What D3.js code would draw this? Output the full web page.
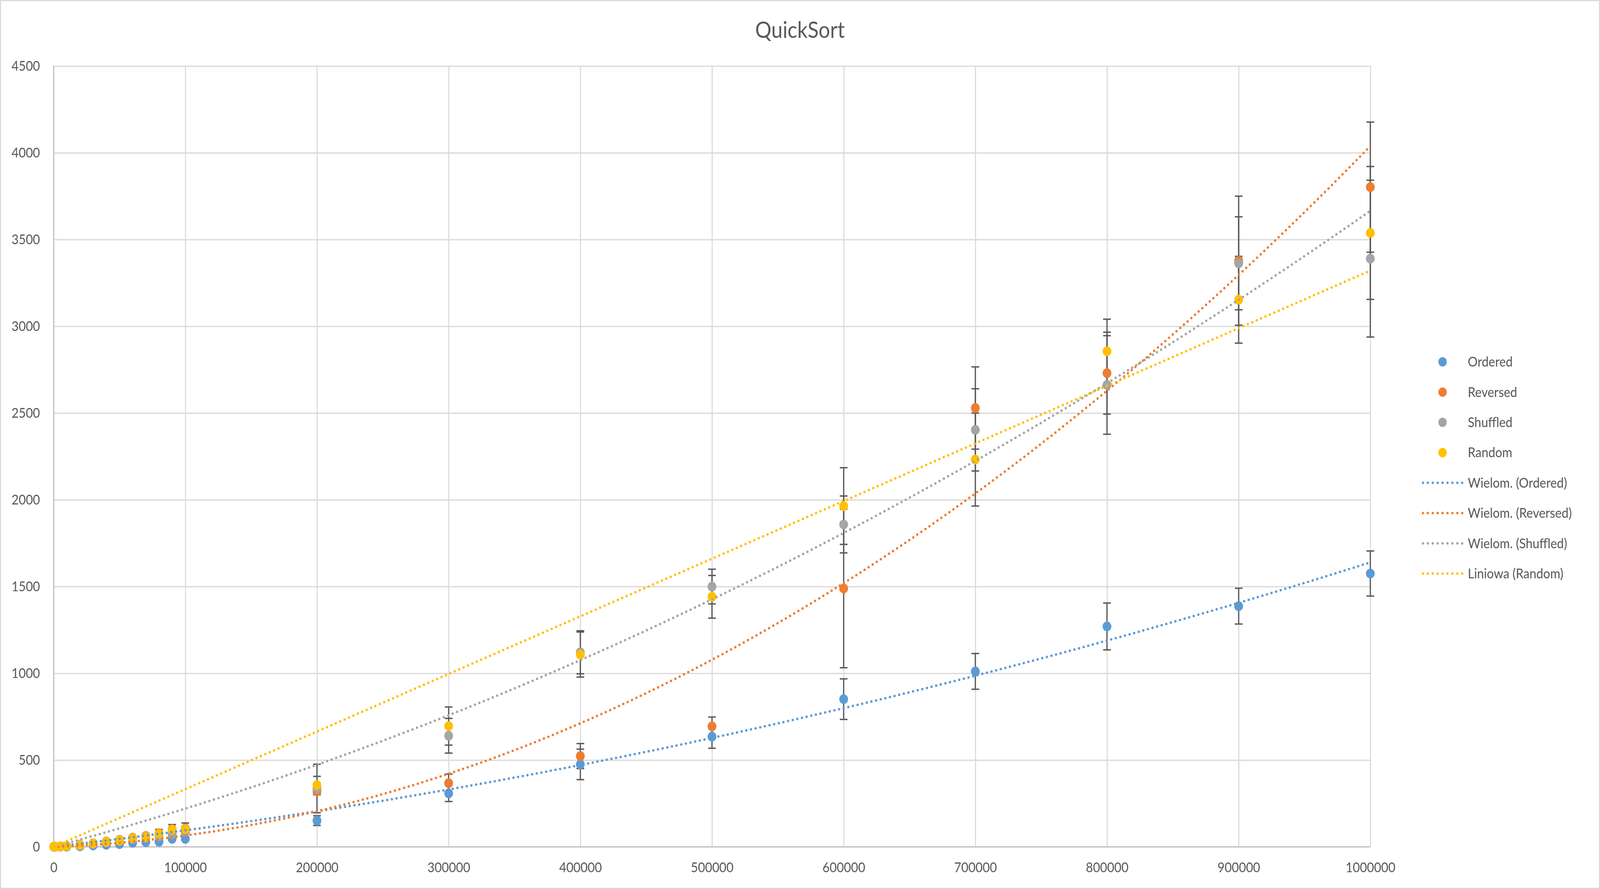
<!DOCTYPE html>
<html>
<head>
<meta charset="utf-8">
<script src="https://cdn.jsdelivr.net/npm/d3@7"></script>
<style>
  html, body { margin: 0; padding: 0; background: #fff; overflow: hidden; }
  svg { display: block; width: 100vw; height: 100vh; font-family: Lato, "Open Sans", sans-serif; }
</style>
</head>
<body>
<svg id="chart" viewBox="0 0 4563 2275" preserveAspectRatio="none"></svg>
<script>
// array sizes (x) and measured times
const sizes = [100, 1000, 5000, 10000, 20000, 30000, 40000, 50000, 60000, 70000, 80000, 90000, 100000,
  200000, 300000, 400000, 500000, 600000, 700000, 800000, 900000, 1000000];

const ordered = [0, 0.3, 0.5, 1, 3, 8, 12, 16, 23, 27, 29, 46, 46, 151, 308, 475, 635, 851, 1011, 1270, 1387, 1575];
const reversed = [0, 0.5, 2, 4, 11, 21, 31, 40, 53, 62, 78, 102, 106, 320, 367, 523, 694, 1489, 2529, 2730, 3378, 3802];
const shuffled = [0, 0.5, 2, 4, 9, 17, 25, 33, 44, 52, 62, 72, 87, 336, 640, 1121, 1500, 1858, 2403, 2662, 3363, 3390];
const random = [0, 0.5, 2, 4, 10, 20, 29, 37, 50, 57, 74, 98, 102, 356, 696, 1108, 1441, 1964, 2232, 2856, 3153, 3538];

// +/- error amounts
const orderedErr = [0, 0, 0, 1, 2, 3, 3, 4, 4, 5, 6, 8, 10, 28, 47, 88, 67, 117, 103, 135, 103, 130];
const reversedErr = [0, 0, 1, 1, 2, 3, 4, 6, 8, 14, 22, 26, 31, 20, 52, 72, 54, 457, 237, 236, 372, 375];
const shuffledErr = [0, 0, 1, 1, 2, 3, 4, 5, 6, 8, 10, 12, 14, 140, 100, 124, 100, 164, 237, 284, 268, 452];
const randomErr = [0, 0, 1, 1, 2, 3, 4, 5, 6, 8, 10, 12, 14, 50, 110, 130, 123, 221, 268, 185, 250, 383];

const seriesNames = ['Ordered', 'Reversed', 'Shuffled', 'Random'];
const seriesColors = ['#5B9BD5', '#ED7D31', '#A5A5A5', '#FFC000'];
const trendNames = ['Wielom. (Ordered)', 'Wielom. (Reversed)', 'Wielom. (Shuffled)', 'Liniowa (Random)'];
const trendDegree = [2, 2, 2, 1];

const xTicks = d3.range(0, 1000001, 100000);
const yTicks = d3.range(0, 4501, 500);

const values = [ordered, reversed, shuffled, random];
const errors = [orderedErr, reversedErr, shuffledErr, randomErr];

const series = seriesNames.map((name, i) => ({
  name,
  color: seriesColors[i],
  trendName: trendNames[i],
  degree: trendDegree[i],
  points: sizes.map((s, j) => ({ x: s, y: values[i][j], e: errors[i][j] }))
}));

// least squares fit through origin: y = c1*x + c2*x^2 ...
function fitThroughOrigin(pts, degree) {
  const k = 1e6; // scale x to keep numbers sane
  const n = degree;
  const A = Array.from({ length: n }, () => new Array(n).fill(0));
  const b = new Array(n).fill(0);
  pts.forEach(p => {
    const t = p.x / k;
    for (let r = 0; r < n; r++) {
      b[r] += Math.pow(t, r + 1) * p.y;
      for (let c = 0; c < n; c++) A[r][c] += Math.pow(t, r + c + 2);
    }
  });
  // gaussian elimination
  for (let i = 0; i < n; i++) {
    for (let j = i + 1; j < n; j++) {
      const f = A[j][i] / A[i][i];
      for (let c = i; c < n; c++) A[j][c] -= f * A[i][c];
      b[j] -= f * b[i];
    }
  }
  const coef = new Array(n).fill(0);
  for (let i = n - 1; i >= 0; i--) {
    let s = b[i];
    for (let c = i + 1; c < n; c++) s -= A[i][c] * coef[c];
    coef[i] = s / A[i][i];
  }
  return x => coef.reduce((acc, c, i) => acc + c * Math.pow(x / k, i + 1), 0);
}

const W = 4563, H = 2275;
const plot = { left: 153, right: 3908, top: 169, bottom: 2167 };

const x = d3.scaleLinear().domain([0, 1000000]).range([plot.left, plot.right]);
const y = d3.scaleLinear().domain([0, 4500]).range([plot.bottom, plot.top]);

const svg = d3.select('#chart');

svg.append('rect')
  .attr('x', 1.5).attr('y', 1.5)
  .attr('width', W - 3).attr('height', H - 3)
  .attr('fill', '#fff')
  .attr('stroke', '#D9D9D9')
  .attr('stroke-width', 3);

svg.append('text')
  .attr('x', W / 2)
  .attr('y', 97)
  .attr('text-anchor', 'middle')
  .attr('fill', '#595959')
  .attr('font-size', 58)
  .text('QuickSort');

// gridlines
const gridX = svg.append('g')
  .attr('transform', `translate(0,${plot.bottom})`)
  .call(d3.axisBottom(x).tickValues(xTicks).tickSize(-(plot.bottom - plot.top)).tickFormat(''));
const gridY = svg.append('g')
  .attr('transform', `translate(${plot.left},0)`)
  .call(d3.axisLeft(y).tickValues(yTicks).tickSize(-(plot.right - plot.left)).tickFormat(''));
[gridX, gridY].forEach(g => {
  g.select('.domain').remove();
  g.selectAll('line').attr('stroke', '#D9D9D9').attr('stroke-width', 3);
});

// axis lines
svg.append('line')
  .attr('x1', plot.left).attr('x2', plot.right)
  .attr('y1', y(0)).attr('y2', y(0))
  .attr('stroke', '#BFBFBF').attr('stroke-width', 3);
svg.append('line')
  .attr('x1', x(0)).attr('x2', x(0))
  .attr('y1', plot.top).attr('y2', plot.bottom)
  .attr('stroke', '#BFBFBF').attr('stroke-width', 3);

// tick labels
const xAxis = svg.append('g')
  .attr('transform', `translate(0,${plot.bottom})`)
  .call(d3.axisBottom(x).tickValues(xTicks).tickSize(0).tickFormat(d3.format('d')));
xAxis.selectAll('text').attr('y', 65).attr('dy', 0);

const yAxis = svg.append('g')
  .attr('transform', `translate(${plot.left},0)`)
  .call(d3.axisLeft(y).tickValues(yTicks).tickSize(0).tickPadding(39).tickFormat(d3.format('d')));

[xAxis, yAxis].forEach(g => {
  g.select('.domain').remove();
  g.selectAll('text')
    .attr('fill', '#595959')
    .attr('font-size', 35)
    .attr('font-family', 'Lato, "Open Sans", sans-serif');
});

// error bars
const capW = 11;
const errG = svg.append('g')
  .attr('stroke', '#595959')
  .attr('stroke-width', 3.5)
  .attr('fill', 'none');
series.forEach(s => {
  const g = errG.append('g');
  const pts = s.points.filter(p => p.e > 0);
  g.selectAll('line.v').data(pts).join('line')
    .attr('class', 'v')
    .attr('x1', d => x(d.x)).attr('x2', d => x(d.x))
    .attr('y1', d => y(d.y - d.e)).attr('y2', d => y(d.y + d.e));
  g.selectAll('line.top').data(pts).join('line')
    .attr('class', 'top')
    .attr('x1', d => x(d.x) - capW).attr('x2', d => x(d.x) + capW)
    .attr('y1', d => y(d.y + d.e)).attr('y2', d => y(d.y + d.e));
  g.selectAll('line.bot').data(pts).join('line')
    .attr('class', 'bot')
    .attr('x1', d => x(d.x) - capW).attr('x2', d => x(d.x) + capW)
    .attr('y1', d => y(d.y - d.e)).attr('y2', d => y(d.y - d.e));
});

// markers
series.forEach(s => {
  svg.append('g')
    .selectAll('circle')
    .data(s.points)
    .join('circle')
    .attr('cx', d => x(d.x))
    .attr('cy', d => y(d.y))
    .attr('r', 12.5)
    .attr('fill', s.color);
});

// trendlines
const trendLine = d3.line().x(d => x(d[0])).y(d => y(d[1]));
series.forEach(s => {
  const f = fitThroughOrigin(s.points, s.degree);
  const x0 = d3.min(sizes), x1 = d3.max(sizes);
  const samples = d3.range(0, 201).map(i => {
    const xv = x0 + (x1 - x0) * i / 200;
    return [xv, f(xv)];
  });
  svg.append('path')
    .datum(samples)
    .attr('d', trendLine)
    .attr('fill', 'none')
    .attr('stroke', s.color)
    .attr('stroke-width', 6.5)
    .attr('stroke-linecap', 'round')
    .attr('stroke-dasharray', '0 13.5');
});

// legend
const legend = svg.append('g').attr('transform', 'translate(4054,926)');
const rowH = 77.4;
series.forEach((s, i) => {
  const row = legend.append('g').attr('transform', `translate(0,${i * rowH})`);
  row.append('circle').attr('cx', 60).attr('cy', 0).attr('r', 12).attr('fill', s.color);
  row.append('text').attr('x', 132).attr('y', 0).attr('dy', '0.35em')
    .attr('fill', '#595959').attr('font-size', 35).text(s.name);
});
series.forEach((s, i) => {
  const row = legend.append('g').attr('transform', `translate(0,${(i + 4) * rowH})`);
  row.append('line').attr('x1', 4).attr('x2', 117).attr('y1', 0).attr('y2', 0)
    .attr('stroke', s.color).attr('stroke-width', 6.5)
    .attr('stroke-linecap', 'round').attr('stroke-dasharray', '0 14');
  row.append('text').attr('x', 132).attr('y', 0).attr('dy', '0.35em')
    .attr('fill', '#595959').attr('font-size', 35).text(s.trendName);
});
</script>
</body>
</html>
